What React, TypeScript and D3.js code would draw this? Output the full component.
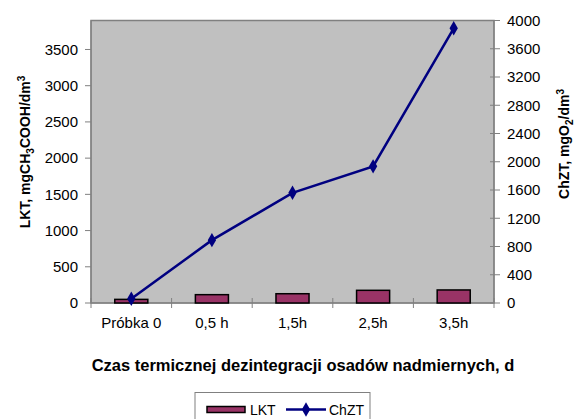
import { useEffect, useRef } from 'react';
import * as d3 from 'd3';

const categories = ['Próbka 0', '0,5 h', '1,5h', '2,5h', '3,5h'];
const lktValues = [50, 115, 128, 175, 180];
const chztValues = [60, 890, 1560, 1935, 3890];
const leftTicks = [0, 500, 1000, 1500, 2000, 2500, 3000, 3500];
const rightTicks = [0, 400, 800, 1200, 1600, 2000, 2400, 2800, 3200, 3600, 4000];

const W = 574;
const H = 419;
const FONT = '"Liberation Sans", Arial, sans-serif';

export default function App() {
  const ref = useRef<SVGSVGElement | null>(null);

  useEffect(() => {
    const svg = d3.select(ref.current);
    svg.selectAll('*').remove();

    const m = { left: 91, right: 494, top: 20.5, bottom: 303 };

    const x = d3.scaleBand<string>().domain(categories).range([m.left, m.right]);
    const yL = d3.scaleLinear().domain([0, 3900]).range([m.bottom, m.top]);
    const yR = d3.scaleLinear().domain([0, 4000]).range([m.bottom, m.top]);

    // plot area
    svg
      .append('rect')
      .attr('x', m.left)
      .attr('y', m.top)
      .attr('width', m.right - m.left)
      .attr('height', m.bottom - m.top)
      .attr('fill', '#c0c0c0')
      .attr('stroke', '#808080')
      .attr('stroke-width', 1.5);

    // left axis
    const gl = svg.append('g').attr('font-family', FONT).attr('font-size', 15);
    gl.append('line')
      .attr('x1', m.left).attr('x2', m.left)
      .attr('y1', m.top).attr('y2', m.bottom)
      .attr('stroke', '#808080');
    leftTicks.forEach(t => {
      gl.append('line')
        .attr('x1', m.left - 6).attr('x2', m.left)
        .attr('y1', yL(t)).attr('y2', yL(t))
        .attr('stroke', '#808080');
      gl.append('text')
        .attr('x', m.left - 13)
        .attr('y', yL(t))
        .attr('dy', '0.35em')
        .attr('text-anchor', 'end')
        .text(t);
    });

    // right axis
    const gr = svg.append('g').attr('font-family', FONT).attr('font-size', 15);
    gr.append('line')
      .attr('x1', m.right).attr('x2', m.right)
      .attr('y1', m.top).attr('y2', m.bottom)
      .attr('stroke', '#808080');
    rightTicks.forEach(t => {
      gr.append('line')
        .attr('x1', m.right - 4).attr('x2', m.right + 6)
        .attr('y1', yR(t)).attr('y2', yR(t))
        .attr('stroke', '#808080');
      gr.append('text')
        .attr('x', m.right + 13)
        .attr('y', yR(t))
        .attr('dy', '0.35em')
        .attr('text-anchor', 'start')
        .text(t);
    });

    // x axis
    const gx = svg.append('g').attr('font-family', FONT).attr('font-size', 15);
    gx.append('line')
      .attr('x1', m.left).attr('x2', m.right)
      .attr('y1', m.bottom).attr('y2', m.bottom)
      .attr('stroke', '#808080');
    categories.forEach((c, i) => {
      const bx = x(c) as number;
      gx.append('line')
        .attr('x1', bx).attr('x2', bx)
        .attr('y1', m.bottom - 5).attr('y2', m.bottom + 5)
        .attr('stroke', '#808080');
      if (i === categories.length - 1) {
        gx.append('line')
          .attr('x1', bx + x.bandwidth()).attr('x2', bx + x.bandwidth())
          .attr('y1', m.bottom - 5).attr('y2', m.bottom + 5)
          .attr('stroke', '#808080');
      }
      gx.append('text')
        .attr('x', bx + x.bandwidth() / 2)
        .attr('y', 328)
        .attr('text-anchor', 'middle')
        .text(c);
    });

    // bars
    const bw = x.bandwidth() * 0.41;
    svg
      .append('g')
      .selectAll('rect')
      .data(lktValues)
      .enter()
      .append('rect')
      .attr('x', (d, i) => (x(categories[i]) as number) + x.bandwidth() / 2 - bw / 2)
      .attr('y', d => yL(d))
      .attr('width', bw)
      .attr('height', d => m.bottom - yL(d))
      .attr('fill', '#993366')
      .attr('stroke', '#000')
      .attr('stroke-width', 1.5);

    // line
    const line = d3
      .line<number>()
      .x((d, i) => (x(categories[i]) as number) + x.bandwidth() / 2)
      .y(d => yR(d));
    svg
      .append('path')
      .datum(chztValues)
      .attr('d', line)
      .attr('fill', 'none')
      .attr('stroke', '#000080')
      .attr('stroke-width', 2.5);

    const diamond = d3.symbol().type(d3.symbolDiamond).size(60);
    svg
      .append('g')
      .selectAll('path')
      .data(chztValues)
      .enter()
      .append('path')
      .attr('d', diamond)
      .attr('transform', (d, i) =>
        `translate(${(x(categories[i]) as number) + x.bandwidth() / 2},${yR(d)})`)
      .attr('fill', '#000080');

    // axis titles
    const tl = svg
      .append('text')
      .attr('transform', 'translate(30,152) rotate(-90)')
      .attr('text-anchor', 'middle')
      .attr('font-family', FONT)
      .attr('font-size', 14)
      .attr('font-weight', 'bold');
    tl.append('tspan').text('LKT, mgCH');
    tl.append('tspan').attr('font-size', 10).attr('dy', 4).text('3');
    tl.append('tspan').attr('dy', -4).text('COOH/dm');
    tl.append('tspan').attr('font-size', 10).attr('dy', -5).text('3');

    const tr = svg
      .append('text')
      .attr('transform', 'translate(569,144) rotate(-90)')
      .attr('text-anchor', 'middle')
      .attr('font-family', FONT)
      .attr('font-size', 14)
      .attr('font-weight', 'bold');
    tr.append('tspan').text('ChZT, mgO');
    tr.append('tspan').attr('font-size', 10).attr('dy', 4).text('2');
    tr.append('tspan').attr('dy', -4).text('/dm');
    tr.append('tspan').attr('font-size', 10).attr('dy', -5).text('3');

    svg
      .append('text')
      .attr('x', 303)
      .attr('y', 371)
      .attr('text-anchor', 'middle')
      .attr('font-family', FONT)
      .attr('font-size', 16.5)
      .attr('font-weight', 'bold')
      .text('Czas termicznej dezintegracji osadów nadmiernych, d');

    // legend
    const lg = svg.append('g').attr('font-family', FONT).attr('font-size', 14);
    lg.append('rect')
      .attr('x', 195).attr('y', 392.5)
      .attr('width', 175).attr('height', 40)
      .attr('fill', '#fff')
      .attr('stroke', '#808080');
    lg.append('rect')
      .attr('x', 207).attr('y', 406.5)
      .attr('width', 38).attr('height', 6)
      .attr('fill', '#993366')
      .attr('stroke', '#000')
      .attr('stroke-width', 1.5);
    lg.append('text').attr('x', 250).attr('y', 415).text('LKT');
    lg.append('line')
      .attr('x1', 286).attr('x2', 326)
      .attr('y1', 409.5).attr('y2', 409.5)
      .attr('stroke', '#000080')
      .attr('stroke-width', 2.5);
    lg.append('path')
      .attr('d', diamond)
      .attr('transform', 'translate(306,409.5)')
      .attr('fill', '#000080');
    lg.append('text').attr('x', 329).attr('y', 415).text('ChZT');
  }, []);

  return (
    <svg
      ref={ref}
      width={W}
      height={H}
      style={{ position: 'absolute', left: 0, top: 0, background: '#fff' }}
    />
  );
}
